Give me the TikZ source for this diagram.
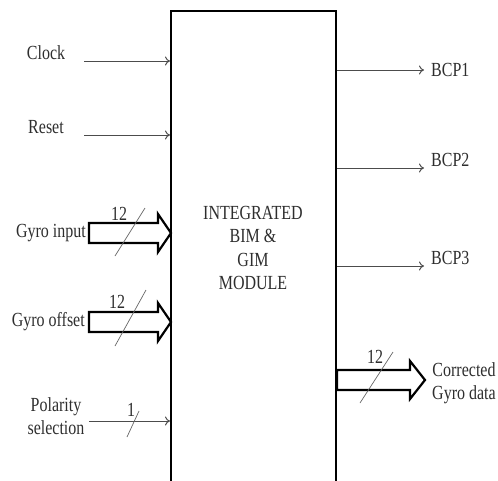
\documentclass[tikz,border=0pt]{standalone}
\usepackage{fontspec}
\setmainfont{Liberation Serif}[FakeStretch=0.8]
\usetikzlibrary{arrows.meta}
\begin{document}
\begin{tikzpicture}[x=1pt,y=-1pt,
  lbl/.style={font=\fontsize{20}{23.5}\selectfont, text=black!82, inner sep=0pt, align=center},
  sig/.style={draw=black!70, line width=1pt, -{To[length=5pt,width=9pt]}},
  fat/.style={draw=black, line width=2.2pt, line join=miter, fill=white},
  slash/.style={draw=black!60, line width=0.7pt},
  blk/.style={draw=black, line width=2pt, fill=white, inner sep=0pt}]
\useasboundingbox (0,0) rectangle (498,480);
\clip (0,0) rectangle (498,480);
% main block
\node[blk, minimum width=165pt, minimum height=500pt] (box) at (253.5,261) {};
\node[lbl] (title) at (253,248) {INTEGRATED\\BIM \&\\GIM\\MODULE};
% clock / reset
\node[lbl] (clock) at (46,53) {Clock};
\node[lbl] (reset) at (46,127) {Reset};
\coordinate (clk) at (84,61);
\coordinate (rst) at (84,135);
\draw[sig] (clk) -- (clk -| box.west);
\draw[sig] (rst) -- (rst -| box.west);
% gyro input
\node[lbl, anchor=east] (gin) at (86,233) {Gyro input};
\draw[fat] (89,223) -- (158,223) -- (158,214) -- (171,233) -- (158,252) -- (158,243) -- (89,243) -- cycle;
\draw[slash] (115,256) -- (145,208);
\node[lbl] (n12a) at (119,214) {12};
% gyro offset
\node[lbl, anchor=east] (goff) at (85,322) {Gyro offset};
\draw[fat] (89,312) -- (158,312) -- (158,303) -- (171,322) -- (158,341) -- (158,332) -- (89,332) -- cycle;
\draw[slash] (115,346) -- (146,290);
\node[lbl] (n12b) at (117,302) {12};
% polarity
\node[lbl] (pol) at (56,416) {Polarity\\selection};
\coordinate (polc) at (89,421);
\draw[sig] (polc) -- (polc -| box.west);
\draw[slash] (127,437) -- (139,411);
\node[lbl] (n1) at (131,410) {1};
% outputs
\coordinate (b1) at (424,70);
\coordinate (b2) at (424,168);
\coordinate (b3) at (424,266);
\draw[sig] (b1 -| box.east) -- (b1);
\draw[sig] (b2 -| box.east) -- (b2);
\draw[sig] (b3 -| box.east) -- (b3);
\node[lbl, anchor=west] (bcp1) at (431,70) {BCP1};
\node[lbl, anchor=west] (bcp2) at (431,160) {BCP2};
\node[lbl, anchor=west] (bcp3) at (431,258) {BCP3};
% corrected gyro data
\draw[fat] (337,370) -- (410,370) -- (410,361) -- (425,380) -- (410,399) -- (410,390) -- (337,390) -- cycle;
\draw[slash] (360,403) -- (393,352);
\node[lbl] (n12c) at (375,357) {12};
\node[lbl] (corr) at (464,383) {Corrected\\Gyro data};
\end{tikzpicture}
\end{document}
